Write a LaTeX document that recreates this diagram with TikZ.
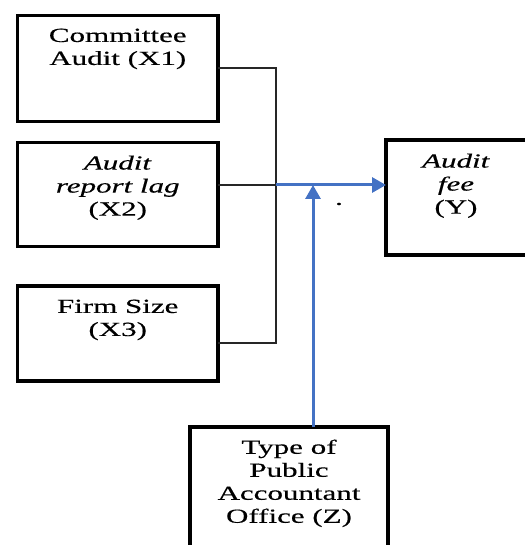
\documentclass[tikz,border=0pt]{standalone}
\usepackage{fontspec}
\setmainfont{Liberation Serif}[FakeStretch=1.55,FakeBold=0.4]
\usetikzlibrary{arrows.meta}
\definecolor{linkblue}{RGB}{68,114,196}
\begin{document}
\begin{tikzpicture}[x=1pt,y=-1pt,
  box/.style={draw=black,line width=3.5pt,minimum width=#1,inner sep=0pt,outer sep=0pt},
  txt/.style={anchor=north,align=center,inner sep=0pt,font=\fontsize{20}{23}\selectfont},
  conn/.style={draw=black!85,line width=1.4pt},
  blueconn/.style={draw=linkblue,line width=3pt,-{Triangle[length=14pt,width=15pt]}}]
\useasboundingbox (0,0) rectangle (524,545);
% boxes
\node[box=200.5pt,minimum height=106pt] (x1) at (117.75,68.5) {};
\node[box=200.5pt,minimum height=104pt] (x2) at (117.75,194.5) {};
\node[box=200.5pt,minimum height=95pt] (x3) at (117.75,333.5) {};
\node[box=144pt,minimum height=115pt] (y) at (458,197.5) {};
\node[box=198pt,minimum height=133pt] (z) at (289,493.5) {};
% texts
\node[txt] (t1) at (117.75,28.5) {Committee\\Audit (X1)};
\node[txt] (t2) at (117.75,155.5) {\textit{Audit}\\\textit{report lag}\\(X2)};
\node[txt] (t3) at (117.75,299.5) {Firm Size\\(X3)};
\node[txt] (ty) at (456,153.5) {\textit{Audit}\\\textit{fee}\\(Y)};
\node[txt] (tz) at (289,439.5) {Type of\\Public\\Accountant\\Office (Z)};
\node[inner sep=0pt,font=\fontsize{20}{23}\selectfont] (dot) at (339,204) {.};
% junctions
\coordinate (j1) at (276,68);
\coordinate (jm) at (276,185);
\coordinate (j3) at (276,343);
\coordinate (jb) at (313,185);
% connectors
\draw[conn] (x1.east |- j1) -- (j1) -- (j3) -- (x3.east |- j3);
\draw[conn] (x2.east |- jm) -- (jm);
\draw[blueconn] (jm) -- (y.west |- jm);
\draw[blueconn] (z.north -| jb) -- (jb);
\end{tikzpicture}
\end{document}
